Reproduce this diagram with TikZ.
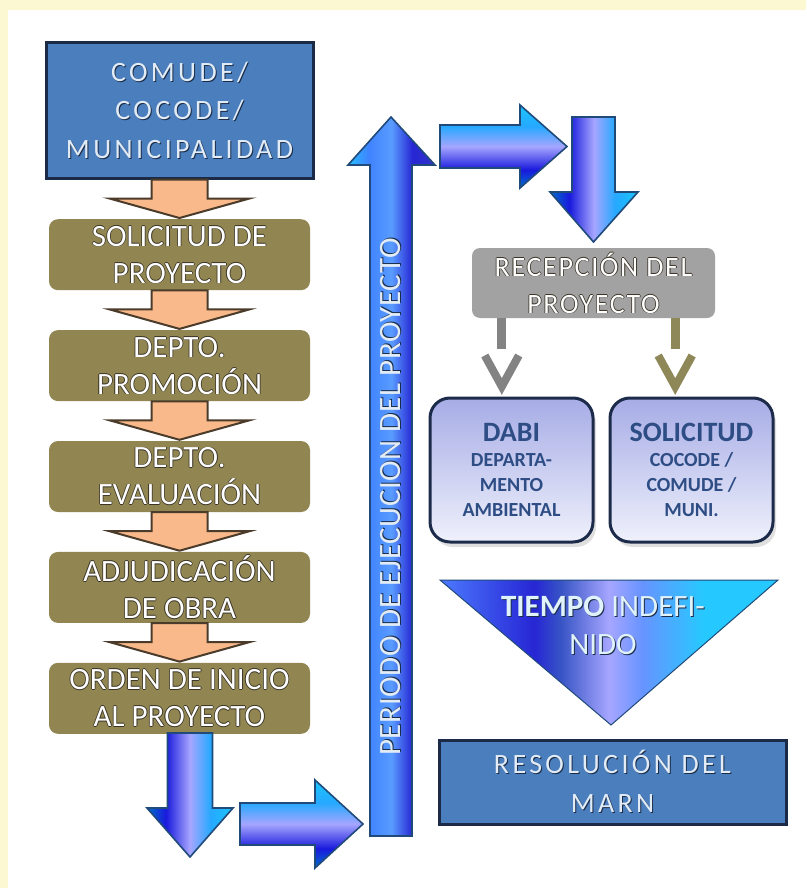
\documentclass[tikz,border=0pt]{standalone}
\usepackage{fontspec}
\setmainfont{Carlito}
\newfontfamily\widefont[LetterSpace=12]{Carlito}
\newfontfamily\recfont[LetterSpace=6]{Carlito}
\newfontfamily\perfont[LetterSpace=2]{Carlito}
\usetikzlibrary{positioning,calc,shadows}

\definecolor{pagebg}{HTML}{FCF8D2}
\definecolor{boxblue}{HTML}{4A7EBD}
\definecolor{boxline}{HTML}{1B2B47}
\definecolor{boxtext}{HTML}{E2ECF7}
\definecolor{txtshadow}{HTML}{1A2C48}
\definecolor{stepolive}{HTML}{918651}
\definecolor{embline}{HTML}{3A3426}
\definecolor{peach}{HTML}{FAB98A}
\definecolor{peachline}{HTML}{4A3B2B}
\definecolor{recgray}{HTML}{A2A2A2}
\definecolor{linkgray}{HTML}{838383}
\definecolor{linkolive}{HTML}{8E8757}
\definecolor{dabiline}{HTML}{1D2B4A}
\definecolor{dabitop}{HTML}{A7ACE6}
\definecolor{dabibot}{HTML}{EFF1FB}
\definecolor{dabitext}{HTML}{2E4D85}
\definecolor{arrowline}{HTML}{1F4A7A}
\definecolor{trtext}{HTML}{E0F3FA}

% glass shadings (bounding box maps to 25bp--75bp)
\pgfdeclarehorizontalshading{downglass}{100bp}{color(0bp)=(blue!45!cyan!80!black); color(25bp)=(blue!45!cyan!80!black); color(36bp)=(blue!85!black!90!white); color(50bp)=(blue!35!white); color(62bp)=(cyan!60!blue!85!white); color(75bp)=(cyan!75!blue!90!white); color(100bp)=(cyan!75!blue!90!white)}
\pgfdeclarehorizontalshading{periodglass}{100bp}{color(0bp)=(cyan!70!blue!85!white); color(25bp)=(cyan!70!blue!85!white); color(37bp)=(cyan!35!blue!75!white); color(50bp)=(cyan!40!blue!65!white); color(62bp)=(blue!80!black!85!white); color(75bp)=(blue!75!black!80!white); color(100bp)=(blue!75!black!80!white)}
\pgfdeclarehorizontalshading{triglass}{100bp}{color(0bp)=(cyan!25!blue!70!white); color(25bp)=(cyan!25!blue!70!white); color(39bp)=(blue!80!black!85!white); color(43bp)=(cyan!20!blue!55!gray); color(50bp)=(blue!35!white); color(55bp)=(cyan!30!blue!60!white); color(64bp)=(cyan!75!blue!85!white); color(75bp)=(cyan!75!blue!85!white); color(100bp)=(cyan!75!blue!85!white)}

% white letters with a dark rim
\newcommand\emb[1]{\leavevmode\rlap{\color{embline}\kern-.8pt#1}\rlap{\color{embline}\kern.8pt#1}\rlap{\color{embline}\raisebox{.8pt}{#1}}\rlap{\color{embline}\raisebox{-.8pt}{#1}}#1}
% light letters with a soft shadow
\newcommand\shd[1]{\leavevmode\rlap{\color{txtshadow}\kern1pt\raisebox{-1pt}{#1}}#1}

\tikzset{
  bluebox/.style={draw=boxline, line width=3pt, fill=boxblue, text=boxtext, align=center,
    inner sep=0pt, font=\widefont\fontsize{28}{38.5}\selectfont},
  stepbox/.style={fill=stepolive, rounded corners=9pt, text=white, align=center,
    minimum width=261pt, minimum height=71pt, inner sep=0pt, font=\fontsize{31}{37}\selectfont},
  dabibox/.style={draw=dabiline, line width=3pt, rounded corners=20pt, top color=dabitop,
    bottom color=dabibot, minimum width=163pt, minimum height=144pt, inner sep=0pt,
    text=dabitext, align=center, font=\bfseries\fontsize{20}{25}\selectfont,
    drop shadow={shadow xshift=3pt, shadow yshift=-5pt, opacity=.25}},
  peachhead/.style={fill=peach, draw=peachline, line width=2pt, line join=miter},
  glassarrow/.style={draw=arrowline, line width=1.6pt, line join=miter, shading=downglass},
  linkshaft/.style={line width=9pt},
  linkchev/.style={line width=8pt, line join=miter, line cap=butt}
}

\begin{document}
\begin{tikzpicture}[x=1pt, y=-1pt]
    %--------------------%
    % Page
    %--------------------%
    \fill[pagebg] (0,0) rectangle (806,888);
    \fill[white] (8,10) rectangle (806,888);
    \useasboundingbox (0,0) rectangle (806,888);

    %--------------------%
    % Left column
    %--------------------%
    \node[bluebox, minimum width=267pt, minimum height=135pt] (comude) at (179.5,110.5)
        {\shd{COMUDE/}\\\shd{COCODE/}\\\shd{MUNICIPALIDAD}};
    \node[stepbox, below=39.5pt of comude] (solicitud) {\emb{SOLICITUD DE}\\\emb{PROYECTO}};
    \node[stepbox, below=39.5pt of solicitud] (promocion) {\emb{DEPTO.}\\\emb{PROMOCIÓN}};
    \node[stepbox, below=39.5pt of promocion] (evaluacion) {\emb{DEPTO.}\\\emb{EVALUACIÓN}};
    \node[stepbox, below=39.5pt of evaluacion] (adjudicacion) {\emb{ADJUDICACIÓN}\\\emb{DE OBRA}};
    \node[stepbox, below=39.5pt of adjudicacion] (orden) {\emb{ORDEN DE INICIO}\\\emb{AL PROYECTO}};

    % Peach arrows between the steps
    \foreach \a/\b in {comude/solicitud, solicitud/promocion, promocion/evaluacion,
                       evaluacion/adjudicacion, adjudicacion/orden} {
        \path[peachhead] ($(\a.south)+(-28,0)$) -- ($(\a.south)+(28,0)$) -- ($(\a.south)+(28,19)$)
            -- ($(\a.south)+(70,19)$) -- ($(\b.north)+(0,-1)$) -- ($(\a.south)+(-70,19)$)
            -- ($(\a.south)+(-28,19)$) -- cycle;
    }

    %--------------------%
    % Glass arrows
    %--------------------%
    % down from the last step
    \path[glassarrow] (167.5,733) -- (212.5,733) -- (212.5,808) -- (233,808) -- (190,857)
        -- (147,808) -- (167.5,808) -- cycle;
    % right, towards the period
    \path[glassarrow, shading angle=90] (240,803) -- (315,803) -- (315,780) -- (363,824)
        -- (315,868) -- (315,845) -- (240,845) -- cycle;
    % period of execution
    \path[glassarrow, shading=periodglass] (370,836) -- (370,165) -- (348,165) -- (391,117)
        -- (435,165) -- (412,165) -- (412,836) -- cycle;
    \node[rotate=90, text=boxtext, font=\perfont\fontsize{31}{31}\selectfont] (periodo) at (391,497)
        {\shd{PERIODO DE EJECUCION DEL PROYECTO}};
    % right, at the top
    \path[glassarrow, shading angle=90] (440,125) -- (520,125) -- (520,105) -- (567,146.5)
        -- (520,188) -- (520,168) -- (440,168) -- cycle;
    % down, to the reception
    \path[glassarrow] (572,117) -- (615,117) -- (615,192) -- (638,192) -- (593.5,242)
        -- (550,192) -- (572,192) -- cycle;

    %--------------------%
    % Right column
    %--------------------%
    \node[fill=recgray, rounded corners=8pt, minimum width=243pt, minimum height=70pt, inner sep=0pt,
          text=white, align=center, font=\recfont\fontsize{28}{37}\selectfont] (recep) at (593.5,283)
        {\emb{RECEPCIÓN DEL}\\\emb{PROYECTO}};
    \node[dabibox] (dabi) at (511.5,470)
        {{\fontsize{28}{25}\selectfont DABI}\\DEPARTA-\\MENTO\\AMBIENTAL};
    \node[dabibox, right=14pt of dabi] (cocode)
        {{\fontsize{28}{25}\selectfont SOLICITUD}\\COCODE /\\COMUDE /\\MUNI.};

    % links from the reception
    \coordinate (ga) at ($(recep.south west)+(30,0)$);
    \coordinate (gb) at ($(recep.south east)+(-40,0)$);
    \draw[linkshaft, linkgray] (ga) -- ($(ga |- dabi.north)+(0,-48)$);
    \draw[linkchev, linkgray] ($(ga |- dabi.north)+(-17,-41)$) -- ($(ga |- dabi.north)+(0,-10)$)
        -- ($(ga |- dabi.north)+(17,-41)$);
    \draw[linkshaft, linkolive] (gb) -- ($(gb |- cocode.north)+(0,-48)$);
    \draw[linkchev, linkolive] ($(gb |- cocode.north)+(-17,-41)$) -- ($(gb |- cocode.north)+(0,-10)$)
        -- ($(gb |- cocode.north)+(17,-41)$);

    % undefined time
    \path[draw=arrowline, line width=1pt, shading=triglass] (440,580) -- (778,580) -- (611,725) -- cycle;
    \node[text=trtext, align=center, font=\fontsize{31}{38}\selectfont] (tiempo) at (603,626)
        {\shd{\textbf{TIEMPO} INDEFI-}\\\shd{NIDO}};

    \node[bluebox, minimum width=347pt, minimum height=84pt] (marn) at (612.5,782)
        {\shd{RESOLUCIÓN DEL}\\\shd{MARN}};

\end{tikzpicture}
\end{document}
